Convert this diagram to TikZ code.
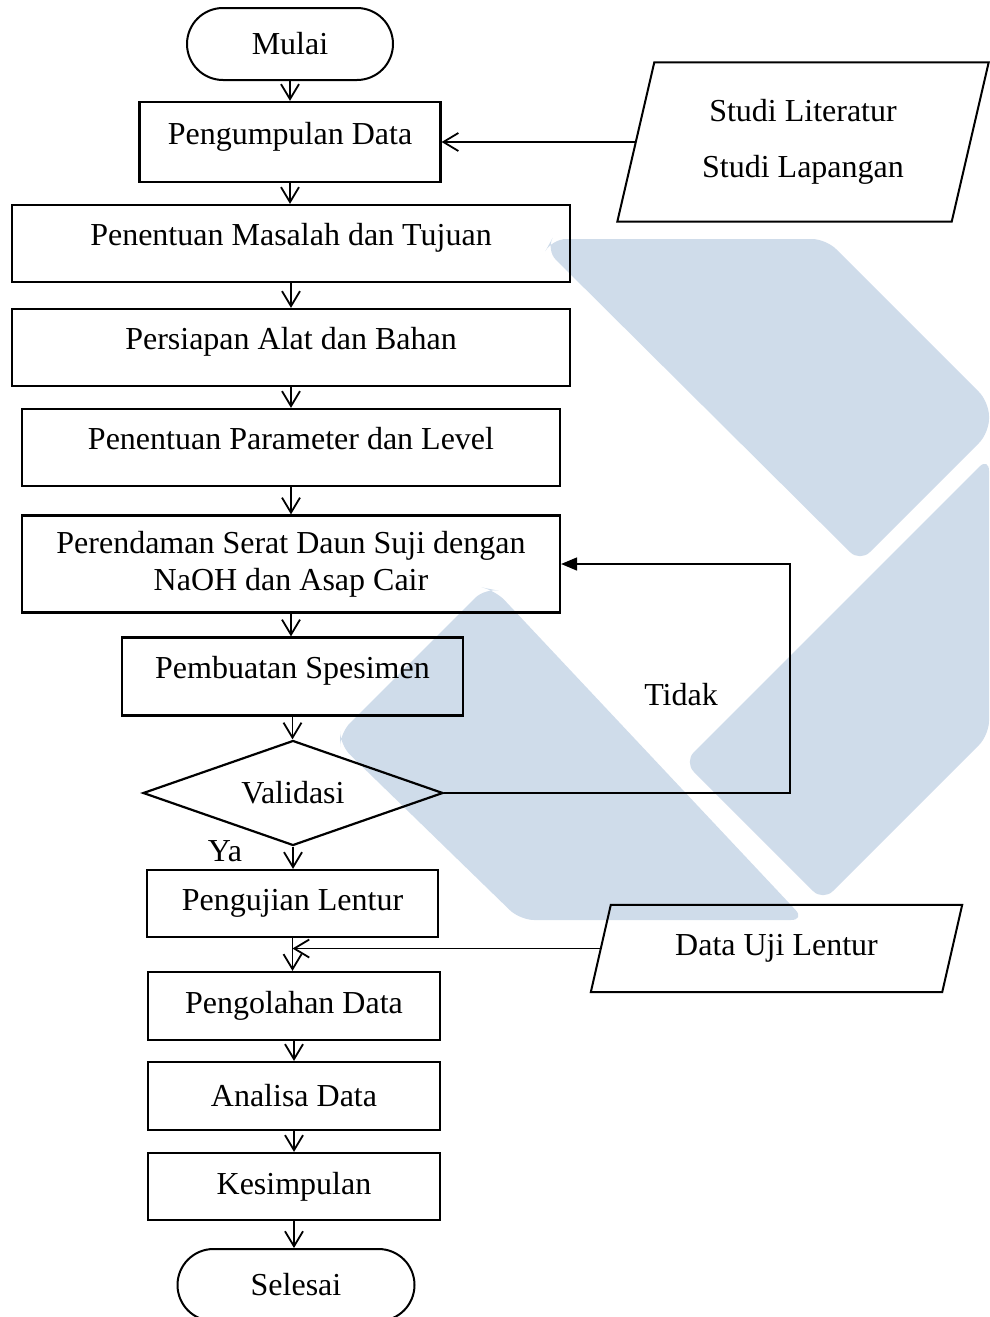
\documentclass[tikz,border=0pt]{standalone}
\usepackage{fontspec}
\setmainfont{Liberation Serif}
\usetikzlibrary{shapes.geometric,arrows.meta}
\definecolor{watermark}{RGB}{207,220,234}

\begin{document}
\begin{tikzpicture}[x=1pt,y=-1pt,
    font=\fontsize{32}{37}\selectfont,
    terminal/.style={draw,line width=2pt,rectangle,rounded corners=36pt,minimum height=72pt},
    proses/.style={draw,line width=2.2pt,rectangle,inner sep=0pt},
    prosesatas/.style={proses,text height=22pt,text depth=18pt},
    masukan/.style={rectangle,inner sep=0pt},
    keputusan/.style={draw,line width=2.2pt,diamond,aspect=2.86,inner sep=0pt},
    alur/.style={line width=1.8pt,-{Straight Barb[length=15pt,width=18pt]}},
    balik/.style={line width=1.6pt,-{Triangle[length=16pt,width=13pt]}}]
  \useasboundingbox (0,0) rectangle (989,1317);
  % watermark di belakang
  \fill[watermark,rounded corners=14pt] (552,239) -- (826,239) -- (989,402) -- (989,433) -- (860,562) -- (546,250) -- cycle;
  \fill[watermark,rounded corners=14pt] (989,457) -- (684,762) -- (823,901) -- (989,735) -- cycle;
  \fill[watermark,rounded corners=14pt] (485,588) -- (340,733) -- (340,745) -- (520,920) -- (805,920) -- (495,590) -- cycle;

  % langkah utama
  \node[terminal,minimum width=206pt] (mulai) at (290,44) {Mulai};
  \node[prosesatas,minimum width=301pt,minimum height=80pt] (kumpul) at (290,142) {Pengumpulan Data};
  \node[masukan,minimum width=334pt,minimum height=159pt,align=center] (studi) at (803,142) {Studi Literatur\\[19pt]Studi Lapangan};
  \draw[line width=2pt] ([xshift=-18.5pt]studi.south west) -- ([xshift=18.5pt]studi.north west)
    -- ([xshift=18.5pt]studi.north east) -- ([xshift=-18.5pt]studi.south east) -- cycle;
  \node[prosesatas,minimum width=558pt,minimum height=77pt] (masalah) at (291,243.5) {Penentuan Masalah dan Tujuan};
  \node[prosesatas,minimum width=558pt,minimum height=77pt] (alat) at (291,347.5) {Persiapan Alat dan Bahan};
  \node[prosesatas,minimum width=538pt,minimum height=77pt] (parameter) at (291,447.5) {Penentuan Parameter dan Level};
  \node[proses,minimum width=538pt,minimum height=97pt,align=center] (rendam) at (291,564) {Perendaman Serat Daun Suji dengan\\NaOH dan Asap Cair};
  \node[prosesatas,minimum width=341pt,minimum height=78pt] (spesimen) at (292.5,676.5) {Pembuatan Spesimen};
  \node[keputusan,minimum width=300pt,minimum height=105pt] (validasi) at (293,793) {Validasi};
  \node[proses,minimum width=291pt,minimum height=67pt] (lentur) at (292.5,903.5) {Pengujian Lentur};
  \node[masukan,minimum width=351pt,minimum height=87pt] (uji) at (776.5,948.5) {Data Uji Lentur};
  \draw[line width=2pt] ([xshift=-10pt]uji.south west) -- ([xshift=10pt]uji.north west)
    -- ([xshift=10pt]uji.north east) -- ([xshift=-10pt]uji.south east) -- cycle;
  \node[proses,minimum width=292pt,minimum height=68pt] (olah) at (294,1006) {Pengolahan Data};
  \node[proses,minimum width=292pt,minimum height=68pt] (analisa) at (294,1096) {Analisa Data};
  \node[proses,minimum width=292pt,minimum height=67pt] (simpul) at (294,1186.5) {Kesimpulan};
  \node[terminal,minimum width=237pt] (selesai) at (296,1285) {Selesai};
  \node (tidak) at (681,695) {Tidak};
  \node (ya) at (225,851) {Ya};
  \coordinate (temu) at (uji.west -| lentur.south);

  % panah
  \draw[alur] (mulai.south) -- (mulai.south |- kumpul.north);
  \draw[alur] (studi.west) -- (kumpul.east);
  \draw[alur] (kumpul.south) -- (kumpul.south |- masalah.north);
  \draw[alur] (masalah.south) -- (masalah.south |- alat.north);
  \draw[alur] (alat.south) -- (alat.south |- parameter.north);
  \draw[alur] (parameter.south) -- (parameter.south |- rendam.north);
  \draw[alur] (rendam.south) -- (rendam.south |- spesimen.north);
  \draw[alur] (spesimen.south) -- (spesimen.south |- validasi.north);
  \draw[alur] (validasi.south) -- (validasi.south |- lentur.north);
  \draw[balik] (validasi.east) -- ++(346,0) |- (rendam.east);
  \draw[alur] (lentur.south) -- (lentur.south |- olah.north);
  \draw[alur] (uji.west) -- (temu);
  \draw[alur] (olah.south) -- (olah.south |- analisa.north);
  \draw[alur] (analisa.south) -- (analisa.south |- simpul.north);
  \draw[alur] (simpul.south) -- (simpul.south |- selesai.north);
\end{tikzpicture}
\end{document}
